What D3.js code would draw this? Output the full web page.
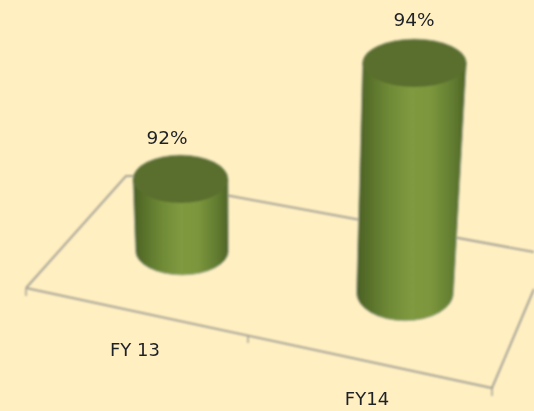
<!DOCTYPE html>
<html>
<head>
<meta charset="utf-8">
<script src="https://cdn.jsdelivr.net/npm/d3@7"></script>
<style>
  html, body { margin: 0; padding: 0; background: #ffefc1; }
  svg { display: block; }
  text { font-family: "DejaVu Sans", sans-serif; fill: #1f2228; }
</style>
</head>
<body>
<div id="chart"></div>
<script>
// Chart values
const categories = ['FY 13', 'FY14'];
const values = [92, 94];
const valueLabels = ['92%', '94%'];

const width = 534;
const height = 411;

const svg = d3.select('#chart')
  .append('svg')
  .attr('width', width)
  .attr('height', height);

const defs = svg.append('defs');

// Picture is a soft upscaled bitmap, so everything gets a small blur
function addBlur(id, amount) {
  defs.append('filter')
    .attr('id', id)
    .attr('filterUnits', 'userSpaceOnUse')
    .attr('x', 0).attr('y', 0)
    .attr('width', width).attr('height', height)
    .append('feGaussianBlur')
    .attr('stdDeviation', amount);
}
addBlur('soft', 0.8);
addBlur('softText', 0.45);

const grad = defs.append('linearGradient').attr('id', 'side');
[[0, '#4a5f23'], [0.1, '#566f2a'], [0.3, '#6f8a36'], [0.5, '#7f9a3f'], [0.68, '#7b963c'], [0.88, '#617c31'], [1, '#4d6325']]
  .forEach(s => grad.append('stop').attr('offset', s[0]).attr('stop-color', s[1]));

const g = svg.append('g').attr('filter', 'url(#soft)');
const labels = svg.append('g').attr('filter', 'url(#softText)');

// Scales: x is the base centre on the floor, y the cylinder height
const xScale = d3.scalePoint()
  .domain(categories)
  .range([182, 405]);

const baseY = d3.scalePoint()
  .domain(categories)
  .range([251, 293]);

const hScale = d3.scaleLinear()
  .domain([91.09, 94])
  .range([0, 230]);

// Floor of the 3D plot
const floor = [[26, 288], [126, 176], [133, 176]];
const floorBack = [[228, 195.5], [534, 252]];
const floorFront = [[26, 288], [492, 388], [534, 289]];
const floorTicks = [[26, 288], [248, 335], [492, 388]];
const line = d3.line();

[floor, floorBack, floorFront].forEach(p => {
  g.append('path')
    .attr('d', line(p))
    .attr('fill', 'none')
    .attr('stroke', '#a5a397')
    .attr('stroke-width', 2);
});

g.selectAll('.tick-mark')
  .data(floorTicks)
  .join('line')
  .attr('class', 'tick-mark')
  .attr('x1', d => d[0])
  .attr('x2', d => d[0])
  .attr('y1', d => d[1])
  .attr('y2', d => d[1] + 8)
  .attr('stroke', '#a5a397')
  .attr('stroke-width', 1.5);

// Perspective: tall bars lean away from the vanishing x and open up a bit
const vanishX = 257;
const lean = 0.000278;

const bars = categories.map((c, i) => {
  const bx = xScale(c);
  const by = baseY(c);
  const h = hScale(values[i]);
  const brx = 46.5 + (bx - 182) * 0.009;
  return {
    bx, by, h, brx,
    bry: 24 + (by - 251) * 0.09,
    tx: bx + (bx - vanishX) * h * lean,
    ty: by - h,
    trx: brx + h * 0.015,
    try_: 24
  };
});

bars.forEach(d => {
  // side wall with the rounded bottom
  g.append('path')
    .attr('d', `M${d.tx - d.trx},${d.ty} L${d.bx - d.brx},${d.by}
      A${d.brx},${d.bry} 0 0 0 ${d.bx + d.brx},${d.by}
      L${d.tx + d.trx},${d.ty} Z`)
    .attr('fill', 'url(#side)')
    .attr('stroke', '#b3b39a')
    .attr('stroke-width', 1);

  // top cap, light rim only on its back half
  g.append('ellipse')
    .attr('cx', d.tx)
    .attr('cy', d.ty)
    .attr('rx', d.trx)
    .attr('ry', d.try_)
    .attr('fill', '#5a6e2d');

  g.append('path')
    .attr('d', `M${d.tx - d.trx},${d.ty} A${d.trx},${d.try_} 0 0 1 ${d.tx + d.trx},${d.ty}`)
    .attr('fill', 'none')
    .attr('stroke', '#a3a88a')
    .attr('stroke-width', 0.8);
});

// Value labels, placed on their own scale
const valueLabelX = d3.scalePoint().domain(valueLabels).range([167, 414]);
const valueLabelY = d3.scalePoint().domain(valueLabels).range([144, 26]);

labels.selectAll('.value-label')
  .data(valueLabels)
  .join('text')
  .attr('class', 'value-label')
  .attr('x', d => valueLabelX(d))
  .attr('y', d => valueLabelY(d))
  .attr('text-anchor', 'middle')
  .style('font-size', '18.5px')
  .text(d => d);

// Category labels sit on the floor below each bar
const catLabelX = d3.scalePoint().domain(categories).range([135, 367]);
const catLabelY = d3.scalePoint().domain(categories).range([356, 405]);

labels.selectAll('.cat-label')
  .data(categories)
  .join('text')
  .attr('class', 'cat-label')
  .attr('x', d => catLabelX(d))
  .attr('y', d => catLabelY(d))
  .attr('text-anchor', 'middle')
  .style('font-size', '18px')
  .text(d => d);
</script>
</body>
</html>
